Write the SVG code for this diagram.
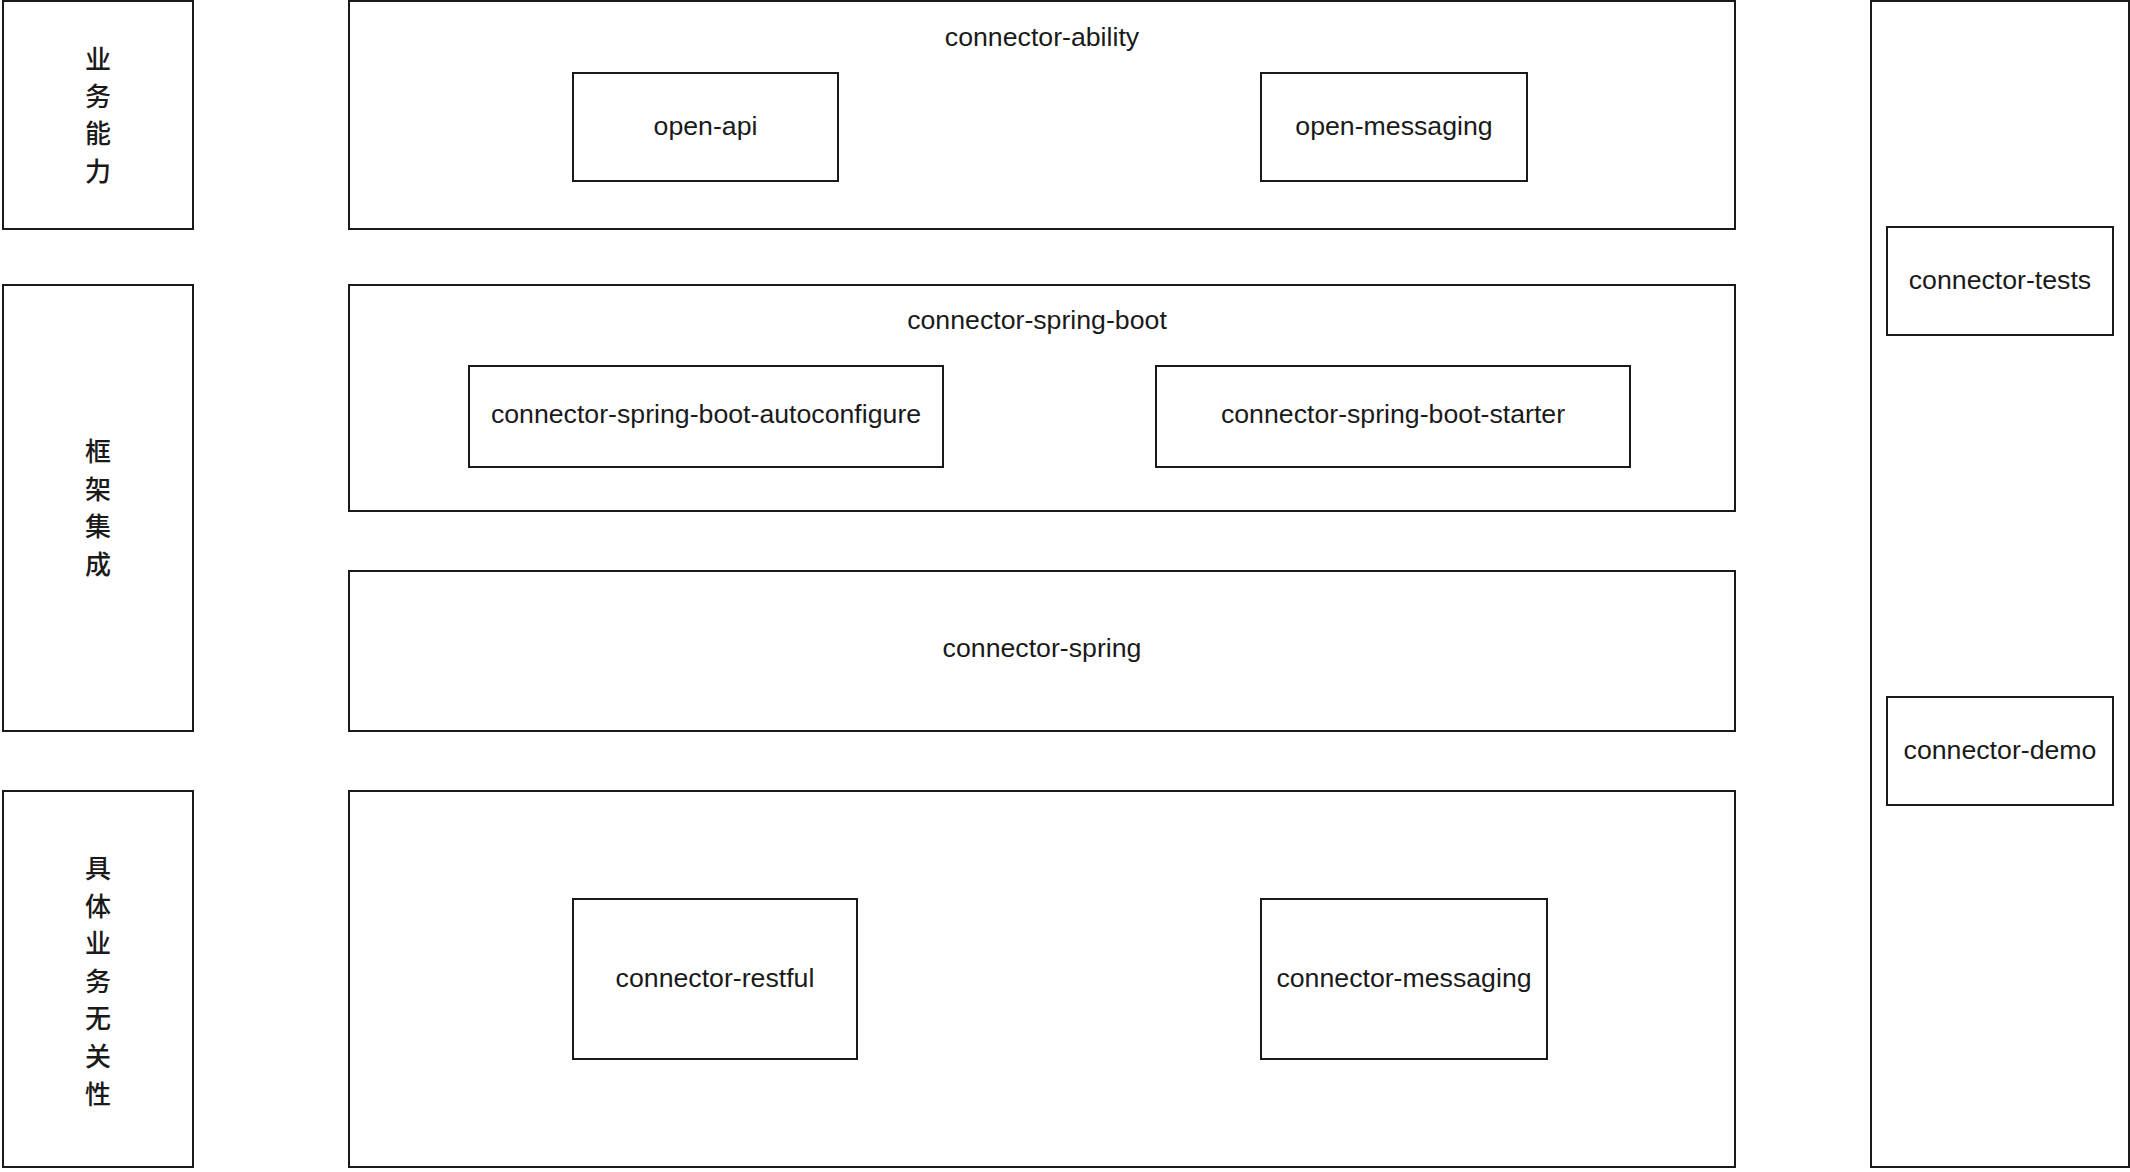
<svg xmlns="http://www.w3.org/2000/svg" width="2130" height="1172" viewBox="0 0 2130 1172">
<style>
rect { fill: #ffffff; stroke: #1a1a1a; stroke-width: 2; }
text { font-family: "Liberation Sans", Arial, "Noto Sans CJK SC", sans-serif; font-size: 26.7px; fill: #1a1a1a; text-anchor: middle; }
.cjk { font-family: "Noto Sans CJK SC", "Liberation Sans", sans-serif; font-size: 26px; font-weight: 500; }
</style>
<rect x="0" y="0" width="2130" height="1172" style="stroke:none"/>
<g id="label-business">
<rect x="3" y="1" width="190" height="228"/>
<text class="cjk"><tspan x="98" y="69">业</tspan><tspan x="98" y="106">务</tspan><tspan x="98" y="143">能</tspan><tspan x="98" y="181">力</tspan></text>
</g>
<g id="label-framework">
<rect x="3" y="285" width="190" height="446"/>
<text class="cjk"><tspan x="98" y="461">框</tspan><tspan x="98" y="499">架</tspan><tspan x="98" y="536">集</tspan><tspan x="98" y="574">成</tspan></text>
</g>
<g id="label-agnostic">
<rect x="3" y="791" width="190" height="376"/>
<text class="cjk"><tspan x="98" y="878">具</tspan><tspan x="98" y="916">体</tspan><tspan x="98" y="953">业</tspan><tspan x="98" y="991">务</tspan><tspan x="98" y="1028">无</tspan><tspan x="98" y="1066">关</tspan><tspan x="98" y="1104">性</tspan></text>
</g>
<g id="connector-ability">
<rect x="349" y="1" width="1386" height="228"/>
<text x="1042" y="46">connector-ability</text>
</g>
<g id="open-api">
<rect x="573" y="73" width="265" height="108"/>
<text x="705.5" y="135">open-api</text>
</g>
<g id="open-messaging">
<rect x="1261" y="73" width="266" height="108"/>
<text x="1394" y="135">open-messaging</text>
</g>
<g id="connector-spring-boot">
<rect x="349" y="285" width="1386" height="226"/>
<text x="1037" y="329">connector-spring-boot</text>
</g>
<g id="connector-spring-boot-autoconfigure">
<rect x="469" y="366" width="474" height="101"/>
<text x="706" y="423">connector-spring-boot-autoconfigure</text>
</g>
<g id="connector-spring-boot-starter">
<rect x="1156" y="366" width="474" height="101"/>
<text x="1393" y="423">connector-spring-boot-starter</text>
</g>
<g id="connector-spring">
<rect x="349" y="571" width="1386" height="160"/>
<text x="1042" y="657">connector-spring</text>
</g>
<g id="connector-core">
<rect x="349" y="791" width="1386" height="376"/>
</g>
<g id="connector-restful">
<rect x="573" y="899" width="284" height="160"/>
<text x="715" y="987">connector-restful</text>
</g>
<g id="connector-messaging">
<rect x="1261" y="899" width="286" height="160"/>
<text x="1404" y="987">connector-messaging</text>
</g>
<g id="tools-column">
<rect x="1871" y="1" width="258" height="1166"/>
</g>
<g id="connector-tests">
<rect x="1887" y="227" width="226" height="108"/>
<text x="2000" y="289">connector-tests</text>
</g>
<g id="connector-demo">
<rect x="1887" y="697" width="226" height="108"/>
<text x="2000" y="759">connector-demo</text>
</g>
<g id="connectors"></g>
</svg>
